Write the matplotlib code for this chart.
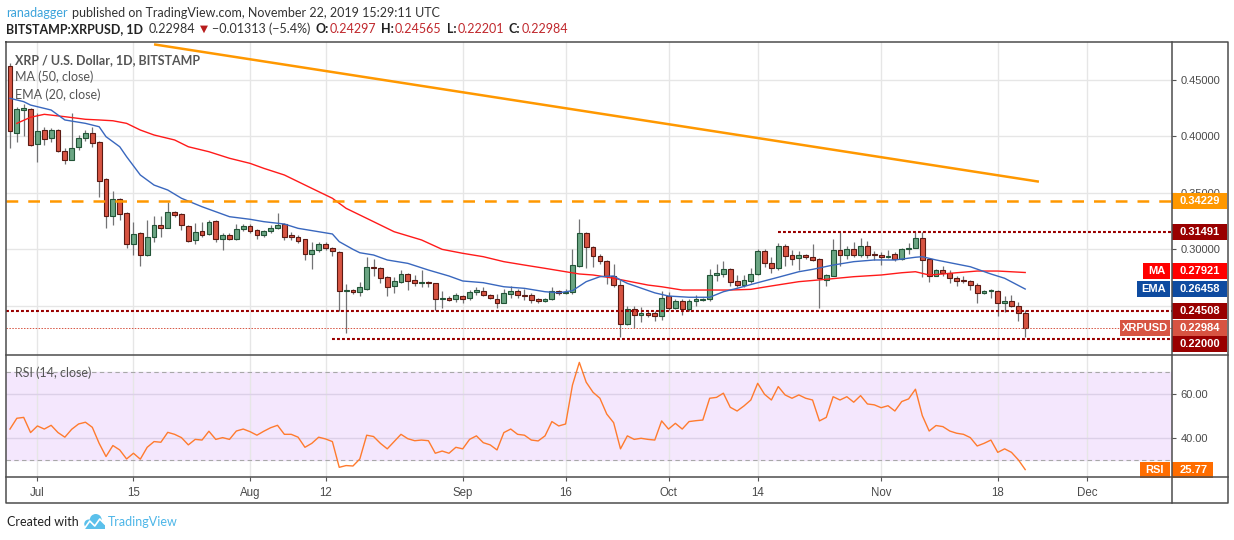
import numpy as np
import pandas as pd
import matplotlib
matplotlib.use("Agg")
import matplotlib.pyplot as plt
import matplotlib.dates as mdates
from matplotlib.patches import Rectangle, Ellipse
from matplotlib.lines import Line2D
from matplotlib.ticker import FuncFormatter

plt.rcParams["font.family"] = ["Liberation Sans", "DejaVu Sans"]

W, H = 1234, 540

# ---- daily XRP/USD candles (Jun 27 .. Nov 22 2019) ----
first_day = "2019-06-27"
opens = [0.462, 0.403, 0.423, 0.424, 0.393, 0.405, 0.398, 0.405, 0.387, 0.379,
         0.390, 0.398, 0.403, 0.395, 0.362, 0.329, 0.344, 0.332, 0.304, 0.314,
         0.295, 0.311, 0.321, 0.319, 0.333, 0.331, 0.320, 0.308, 0.316, 0.313,
         0.325, 0.309, 0.312, 0.309, 0.318, 0.320, 0.317, 0.312, 0.316, 0.319,
         0.322, 0.312, 0.311, 0.309, 0.296, 0.299, 0.304, 0.301, 0.297, 0.263,
         0.264, 0.262, 0.265, 0.284, 0.283, 0.275, 0.267, 0.271, 0.278, 0.273,
         0.270, 0.271, 0.270, 0.256, 0.257, 0.256, 0.258, 0.257, 0.262, 0.263,
         0.259, 0.256, 0.252, 0.260, 0.263, 0.259, 0.259, 0.256, 0.254, 0.256,
         0.263, 0.261, 0.262, 0.285, 0.314, 0.302, 0.294, 0.289, 0.276, 0.268,
         0.234, 0.247, 0.242, 0.243, 0.243, 0.241, 0.258, 0.248, 0.254, 0.247,
         0.254, 0.255, 0.256, 0.277, 0.278, 0.282, 0.272, 0.268, 0.272, 0.278,
         0.298, 0.288, 0.283, 0.303, 0.295, 0.292, 0.295, 0.293, 0.291, 0.273,
         0.276, 0.299, 0.295, 0.300, 0.295, 0.303, 0.296, 0.295, 0.293, 0.296,
         0.291, 0.300, 0.301, 0.310, 0.291, 0.276, 0.281, 0.279, 0.274, 0.273,
         0.272, 0.268, 0.261, 0.263, 0.263, 0.252, 0.254, 0.250, 0.24297]
highs = [0.465, 0.426, 0.428, 0.425, 0.420, 0.408, 0.407, 0.406, 0.389, 0.420,
         0.401, 0.405, 0.408, 0.396, 0.363, 0.351, 0.345, 0.333, 0.324, 0.315,
         0.326, 0.329, 0.329, 0.342, 0.334, 0.332, 0.321, 0.323, 0.324, 0.326,
         0.326, 0.314, 0.314, 0.322, 0.322, 0.322, 0.318, 0.317, 0.321, 0.332,
         0.323, 0.315, 0.312, 0.309, 0.306, 0.306, 0.306, 0.302, 0.298, 0.269,
         0.265, 0.271, 0.293, 0.291, 0.284, 0.276, 0.275, 0.281, 0.279, 0.277,
         0.281, 0.272, 0.270, 0.263, 0.258, 0.261, 0.259, 0.264, 0.266, 0.266,
         0.260, 0.260, 0.265, 0.267, 0.265, 0.265, 0.261, 0.257, 0.257, 0.266,
         0.264, 0.265, 0.300, 0.327, 0.315, 0.303, 0.296, 0.290, 0.287, 0.273,
         0.250, 0.250, 0.249, 0.246, 0.245, 0.263, 0.262, 0.256, 0.256, 0.256,
         0.259, 0.257, 0.282, 0.287, 0.289, 0.283, 0.277, 0.277, 0.283, 0.300,
         0.300, 0.293, 0.305, 0.304, 0.299, 0.298, 0.296, 0.304, 0.292, 0.278,
         0.309, 0.315, 0.303, 0.306, 0.310, 0.307, 0.298, 0.297, 0.299, 0.297,
         0.301, 0.305, 0.315, 0.315, 0.292, 0.282, 0.285, 0.281, 0.276, 0.276,
         0.273, 0.270, 0.264, 0.265, 0.264, 0.258, 0.259, 0.253, 0.24565]
lows = [0.389, 0.395, 0.400, 0.391, 0.377, 0.392, 0.395, 0.386, 0.375, 0.379,
        0.388, 0.396, 0.390, 0.346, 0.319, 0.321, 0.326, 0.301, 0.295, 0.285,
        0.294, 0.306, 0.311, 0.319, 0.328, 0.317, 0.306, 0.304, 0.311, 0.312,
        0.306, 0.299, 0.308, 0.308, 0.316, 0.314, 0.309, 0.311, 0.314, 0.318,
        0.308, 0.308, 0.305, 0.290, 0.282, 0.297, 0.299, 0.294, 0.245, 0.226,
        0.260, 0.258, 0.264, 0.276, 0.270, 0.258, 0.261, 0.270, 0.264, 0.267,
        0.266, 0.266, 0.246, 0.248, 0.254, 0.253, 0.252, 0.255, 0.259, 0.258,
        0.256, 0.248, 0.252, 0.257, 0.257, 0.255, 0.252, 0.252, 0.253, 0.255,
        0.259, 0.260, 0.260, 0.284, 0.283, 0.284, 0.287, 0.269, 0.266, 0.222,
        0.233, 0.230, 0.235, 0.240, 0.236, 0.237, 0.246, 0.247, 0.242, 0.245,
        0.250, 0.254, 0.254, 0.272, 0.275, 0.267, 0.266, 0.266, 0.270, 0.277,
        0.284, 0.279, 0.281, 0.285, 0.286, 0.281, 0.291, 0.289, 0.248, 0.267,
        0.276, 0.285, 0.291, 0.293, 0.293, 0.292, 0.290, 0.286, 0.292, 0.289,
        0.290, 0.296, 0.301, 0.275, 0.271, 0.276, 0.276, 0.270, 0.267, 0.270,
        0.264, 0.252, 0.260, 0.257, 0.241, 0.244, 0.249, 0.236, 0.22201]
closes = [0.404, 0.424, 0.425, 0.392, 0.404, 0.397, 0.405, 0.387, 0.379, 0.389,
          0.398, 0.403, 0.394, 0.360, 0.329, 0.344, 0.331, 0.304, 0.313, 0.295,
          0.311, 0.321, 0.319, 0.333, 0.330, 0.321, 0.307, 0.315, 0.312, 0.324,
          0.309, 0.312, 0.309, 0.318, 0.320, 0.316, 0.312, 0.316, 0.319, 0.321,
          0.311, 0.311, 0.307, 0.296, 0.299, 0.304, 0.301, 0.298, 0.263, 0.264,
          0.262, 0.266, 0.284, 0.283, 0.274, 0.266, 0.272, 0.278, 0.272, 0.270,
          0.271, 0.270, 0.256, 0.257, 0.255, 0.259, 0.256, 0.262, 0.264, 0.259,
          0.257, 0.252, 0.261, 0.263, 0.259, 0.258, 0.255, 0.254, 0.256, 0.263,
          0.261, 0.262, 0.286, 0.314, 0.302, 0.294, 0.289, 0.276, 0.268, 0.234,
          0.247, 0.242, 0.243, 0.242, 0.241, 0.257, 0.248, 0.254, 0.247, 0.254,
          0.256, 0.256, 0.277, 0.279, 0.282, 0.271, 0.268, 0.273, 0.278, 0.298,
          0.288, 0.283, 0.303, 0.294, 0.291, 0.295, 0.293, 0.290, 0.274, 0.277,
          0.299, 0.295, 0.300, 0.295, 0.303, 0.295, 0.295, 0.293, 0.294, 0.291,
          0.300, 0.301, 0.310, 0.290, 0.276, 0.281, 0.279, 0.274, 0.272, 0.272,
          0.268, 0.261, 0.263, 0.264, 0.252, 0.254, 0.250, 0.24297, 0.22984]

# RSI(14) one value per candle
rsi = [44.2, 49.1, 49.5, 42.6, 45.6, 44.2, 45.9, 42.6, 40.5, 44.1,
       46.5, 47.3, 45.0, 37.7, 31.7, 36.7, 34.7, 30.6, 33.2, 30.5,
       35.9, 38.5, 38.2, 42.7, 41.8, 40.3, 37.0, 39.5, 39.2, 43.2,
       39.5, 40.3, 39.5, 43.3, 44.2, 43.0, 41.4, 43.2, 44.8, 45.9,
       41.8, 41.8, 40.5, 35.9, 37.7, 40.5, 39.7, 38.5, 26.8, 27.6,
       27.4, 30.6, 41.4, 40.8, 37.7, 35.2, 38.5, 41.8, 39.8, 38.9,
       39.2, 38.9, 33.2, 34.2, 33.2, 35.9, 35.2, 39.5, 41.1, 38.0,
       37.0, 34.7, 42.6, 44.2, 41.8, 41.4, 39.2, 38.8, 41.1, 47.6,
       45.6, 46.5, 64.2, 74.5, 65.5, 60.9, 58.2, 51.0, 47.1, 35.2,
       41.1, 39.5, 40.0, 39.5, 39.2, 47.9, 44.2, 46.8, 44.2, 47.6,
       48.0, 48.3, 58.2, 58.6, 60.5, 54.1, 52.4, 54.7, 57.4, 65.0,
       60.0, 57.4, 63.5, 59.7, 58.2, 59.7, 58.2, 57.4, 47.9, 49.5,
       58.9, 57.4, 58.9, 56.4, 59.4, 55.6, 55.2, 53.9, 54.8, 52.4,
       56.7, 57.9, 62.3, 50.3, 43.3, 45.8, 45.3, 43.3, 42.3, 41.8,
       40.3, 36.5, 37.7, 39.2, 33.6, 35.2, 33.6, 30.2, 25.77]

# moving averages, sampled along the lines (day offset from first candle)
ma_day = [1, 3, 5, 8, 11, 13, 15, 17, 19, 21, 24, 26, 29, 32, 35, 37, 40, 42, 44, 47,
          49, 51, 53, 56, 60, 63, 66, 69, 72, 75, 78, 81, 83, 85, 86, 88, 90, 93, 95, 98,
          102, 105, 108, 111, 115, 119, 123, 127, 130, 132, 134, 136, 138, 141, 144, 148]
ma_val = [0.4112, 0.4166, 0.4192, 0.4171, 0.4148, 0.4142, 0.4135, 0.4112, 0.4053, 0.4009,
          0.3965, 0.3905, 0.3861, 0.3803, 0.3758, 0.3714, 0.3655, 0.3596, 0.3537, 0.3449,
          0.3360, 0.3301, 0.3242, 0.3153, 0.3080, 0.2997, 0.2962, 0.2932, 0.2888, 0.2858,
          0.2829, 0.2799, 0.2779, 0.2770, 0.2761, 0.2741, 0.2717, 0.2681, 0.2666, 0.2637,
          0.2637, 0.2637, 0.2643, 0.2673, 0.2711, 0.2732, 0.2755, 0.2770, 0.2790, 0.2799,
          0.2770, 0.2779, 0.2790, 0.2805, 0.2805, 0.27921]
ema_day = [0, 2, 3, 6, 8, 11, 13, 14, 16, 17, 19, 21, 23, 25, 28, 30, 32, 35, 37, 40,
           42, 45, 47, 48, 50, 51, 53, 55, 58, 61, 64, 66, 69, 72, 75, 78, 80, 82, 84, 86,
           88, 89, 90, 94, 96, 99, 102, 104, 106, 109, 112, 115, 117, 120, 123, 126, 129,
           132, 133, 135, 137, 140, 143, 145, 148]
ema_val = [0.4334, 0.4304, 0.4274, 0.4230, 0.4142, 0.4112, 0.4082, 0.3994, 0.3905, 0.3817,
           0.3655, 0.3566, 0.3522, 0.3449, 0.3374, 0.3330, 0.3286, 0.3263, 0.3242, 0.3221,
           0.3183, 0.3153, 0.3133, 0.3065, 0.2997, 0.2967, 0.2947, 0.2903, 0.2873, 0.2814,
           0.2761, 0.2717, 0.2702, 0.2666, 0.2652, 0.2622, 0.2613, 0.2631, 0.2711, 0.2755,
           0.2761, 0.2726, 0.2696, 0.2612, 0.2584, 0.2573, 0.2573, 0.2622, 0.2652, 0.2702,
           0.2750, 0.2799, 0.2820, 0.2858, 0.2888, 0.2903, 0.2903, 0.2927, 0.2932, 0.2903,
           0.2879, 0.2843, 0.2779, 0.2741, 0.26458]

# drawn objects
trend_dates = ["2019-07-18", "2019-11-24"]
trend_vals = [0.4811, 0.3596]
resistance = 0.34229
range_high, range_high_from = 0.31491, "2019-10-17"
support_1 = 0.24508
support_2, support_2_from = 0.22000, "2019-08-13"

tick_dates = ["2019-07-01", "2019-07-15", "2019-08-01", "2019-08-12", "2019-09-01",
              "2019-09-16", "2019-10-01", "2019-10-14", "2019-11-01", "2019-11-18",
              "2019-12-01"]
tick_labels = ["Jul", "15", "Aug", "12", "Sep", "16", "Oct", "14", "Nov", "18", "Dec"]

UP, DOWN = "#6BA583", "#D75442"
UP_EDGE, DOWN_EDGE = "#225437", "#5B1A13"
DARKRED = "#990000"
GRID = "#E6E6E6"
AXTXT = "#4A4A4A"
HDR = ["Lato", "DejaVu Sans"]
HSZ = 9.0
DOTS = (0, (1.4, 1.0))

o = np.array(opens); hi = np.array(highs); lo = np.array(lows); c = np.array(closes)
dates = pd.date_range(first_day, periods=len(c), freq="D")
xd = mdates.date2num(dates.to_pydatetime())
tx = mdates.datestr2num(tick_dates)

fig = plt.figure(figsize=(W / 100, H / 100), dpi=100)
fig.patch.set_facecolor("white")
ax = fig.add_axes([6 / W, 1 - 355 / H, 1166 / W, 313 / H])
axr = fig.add_axes([6 / W, 1 - 477 / H, 1166 / W, 122 / H])

for a in (ax, axr):
    a.set_xlim(xd[0] - 0.58, xd[0] + 169.4)
    a.set_xticks(tx)
    a.grid(True, axis="both", color=GRID, lw=1)
    a.set_axisbelow(True)
    for s in a.spines.values():
        s.set_visible(False)
    a.yaxis.tick_right()
    a.tick_params(axis="y", length=3, width=0.8, color="#555555",
                  labelsize=8, labelcolor=AXTXT, pad=3)

ax.set_ylim(0.2062, 0.4832)
ax.set_yticks([0.25, 0.30, 0.35, 0.40, 0.45])
ax.yaxis.set_major_formatter(FuncFormatter(lambda v, p: f"{v:.5f}" if v > 0.27 else ""))
ax.tick_params(axis="x", length=0, labelbottom=False)

axr.set_ylim(22.4, 77.86)
axr.set_yticks([40, 60])
axr.yaxis.set_major_formatter(FuncFormatter(lambda v, p: f"{v:.2f}"))
axr.set_xticklabels(tick_labels)
axr.tick_params(axis="x", length=3, width=0.8, color="#555555",
                labelsize=8.3, labelcolor=AXTXT, pad=4)

# candles
up = c >= o
ax.vlines(xd, lo, hi, color="#737375", lw=0.9, zorder=2)
ax.bar(xd, np.maximum(np.abs(c - o), 0.0009), bottom=np.minimum(o, c), width=0.7,
       color=np.where(up, UP, DOWN), edgecolor=np.where(up, UP_EDGE, DOWN_EDGE),
       linewidth=0.8, zorder=3)

# moving averages
ax.plot(xd[0] + np.array(ma_day), ma_val, color="#FF1A1A", lw=1.0, zorder=4)
ax.plot(xd[0] + np.array(ema_day), ema_val, color="#3967BE", lw=1.0, zorder=4)

# drawings
ax.plot(mdates.datestr2num(trend_dates), trend_vals, color="#FF9800", lw=1.8,
        solid_capstyle="butt", zorder=5)
ax.axhline(resistance, color="#FF9800", lw=1.8, linestyle=(0, (4.7, 4.0)), zorder=5)
ax.hlines(range_high, mdates.datestr2num(range_high_from), ax.get_xlim()[1],
          color=DARKRED, lw=1.5, linestyle=DOTS, zorder=5)
ax.axhline(support_1, color=DARKRED, lw=1.5, linestyle=DOTS, zorder=5)
ax.hlines(support_2, mdates.datestr2num(support_2_from), ax.get_xlim()[1],
          color=DARKRED, lw=1.5, linestyle=DOTS, zorder=5)
ax.axhline(c[-1], color=DOWN, lw=0.7, linestyle=(0, (1.5, 1.5)), zorder=5)

# RSI panel
axr.axhspan(30, 70, color="#F4E7FD", zorder=0.5)
axr.grid(True, axis="y", color="#DCD0E8", lw=1)
for lvl in (70, 30):
    axr.axhline(lvl, color="#A8A8A8", lw=0.8, linestyle=(0, (4, 3)), zorder=1.6)
axr.plot(xd, rsi, color="#FF7B2E", lw=1.0, zorder=3)


def fx(px):
    return px / W


def fy(py):
    return 1 - py / H


def row(axis, v):
    return H - axis.transData.transform((0, v))[1]


def fline(xs, ys, **kw):
    fig.add_artist(Line2D([fx(v) for v in xs], [fy(v) for v in ys],
                          transform=fig.transFigure, **kw))


def label_box(x0, x1, yc, fc, text, ha="left", tx_=None, size=8):
    fig.add_artist(Rectangle((fx(x0), fy(yc + 8)), (x1 - x0) / W, 16 / H,
                             transform=fig.transFigure, fc=fc, ec="none", zorder=5))
    if tx_ is None:
        tx_ = (x0 + x1) / 2 if ha == "center" else x0 + 8
    fig.text(fx(tx_), fy(yc), text, color="white", fontweight="bold", size=size,
             ha=ha, va="center", zorder=6)


renderer = fig.canvas.get_renderer()


def text_run(x, y, pieces):
    # pieces: (text, colour, weight, gap after, family, size)
    for txt, col, wt, gap, fam, sz in pieces:
        t = fig.text(fx(x), fy(y), txt, family=fam, size=sz, color=col,
                     fontweight=wt, va="center", ha="left")
        x = t.get_window_extent(renderer=renderer).x1 + gap
    return x


# price scale labels
price_tags = [(resistance, "#FF9800", None, 0, 0),
              (range_high, DARKRED, None, 0, 0),
              (ma_val[-1], "#FF0000", "MA", 1143, -2),
              (ema_val[-1], "#0E4BA0", "EMA", 1137, 0),
              (support_1, DARKRED, None, 0, 0),
              (c[-1], DOWN, "XRPUSD", 1120, 0),
              (support_2, DARKRED, None, 0, 5)]
for val, col, tag, tag_x, dy in price_tags:
    yc = row(ax, val) + dy
    label_box(1172, 1227, yc, col, f"{val:.5f}")
    if tag:
        label_box(tag_x, 1170, yc, col, tag, ha="center")

yc = row(axr, rsi[-1])
label_box(1172, 1213, yc, "#FF6D00", f"{rsi[-1]:.2f}")
label_box(1140, 1170, yc, "#FF6D00", "RSI", ha="center")

# panel frame
frame = dict(color="#4D4D4D", lw=1.1, zorder=7)
fline([6, 1228, 1228, 6, 6], [42, 42, 503, 503, 42], **frame)
fline([6, 1228], [355, 355], **frame)
fline([6, 1228], [477, 477], **frame)
fline([1172, 1172], [42, 503], **frame)

# legends inside panes
fig.text(fx(15), fy(60), "XRP / U.S. Dollar, 1D, BITSTAMP", family=HDR, size=HSZ,
         fontweight="bold", color="#555555", va="center")
fig.text(fx(15), fy(77), "MA (50, close)", family=HDR, size=HSZ, color="#555555", va="center")
fig.text(fx(15), fy(95), "EMA (20, close)", family=HDR, size=HSZ, color="#555555", va="center")
fig.text(fx(15), fy(373), "RSI (14, close)", family=HDR, size=HSZ, color="#555555", va="center")

# header
text_run(6, 13, [("ranadagger", "#3BA3DB", "normal", 4, HDR, HSZ),
                 ("published on TradingView.com, November 22, 2019 15:29:11 UTC",
                  "#333333", "normal", 0, HDR, HSZ)])
chg = c[-1] - c[-2]
RED = "#C0282D"
DARK = "#222222"
text_run(6, 29, [
    ("BITSTAMP:XRPUSD, 1D", DARK, "bold", 6, HDR, HSZ),
    (f"{c[-1]:.5f}", "#333333", "normal", 4, HDR, HSZ),
    ("\u25BC", "#B71C1C", "normal", 4, ["DejaVu Sans"], 7.5),
    (f"\u2212{abs(chg):.5f} (\u2212{abs(chg) / c[-2] * 100:.1f}%)", "#333333", "normal", 5, HDR, HSZ),
    ("O:", DARK, "bold", 1, HDR, HSZ), (f"{o[-1]:.5f}", RED, "normal", 5, HDR, HSZ),
    ("H:", DARK, "bold", 1, HDR, HSZ), (f"{hi[-1]:.5f}", RED, "normal", 5, HDR, HSZ),
    ("L:", DARK, "bold", 1, HDR, HSZ), (f"{lo[-1]:.5f}", RED, "normal", 5, HDR, HSZ),
    ("C:", DARK, "bold", 1, HDR, HSZ), (f"{c[-1]:.5f}", RED, "normal", 0, HDR, HSZ)])

# footer
end = text_run(7, 522, [("Created with", DARK, "normal", 0, HDR, HSZ)])
lx = end + 5
logo = "#5BC0EB"
for cx, cy, r in [(5, 524, 4.5), (12, 520, 6.0), (17, 525, 4.0)]:
    fig.add_artist(Ellipse((fx(lx + cx), fy(cy)), 2 * r / W, 2 * r / H,
                           transform=fig.transFigure, fc=logo, ec="none"))
fig.add_artist(Rectangle((fx(lx + 1), fy(529)), 20 / W, 5 / H, transform=fig.transFigure,
                         fc=logo, ec="none"))
fline([lx + 1, lx + 6, lx + 11, lx + 16, lx + 21], [528, 521, 526, 519, 524],
      color="white", lw=1.2)
text_run(lx + 24, 522, [("TradingView", "#4DB6E8", "normal", 0, HDR, HSZ)])

fig.savefig("out.png", dpi=100, facecolor="white")
plt.close(fig)
